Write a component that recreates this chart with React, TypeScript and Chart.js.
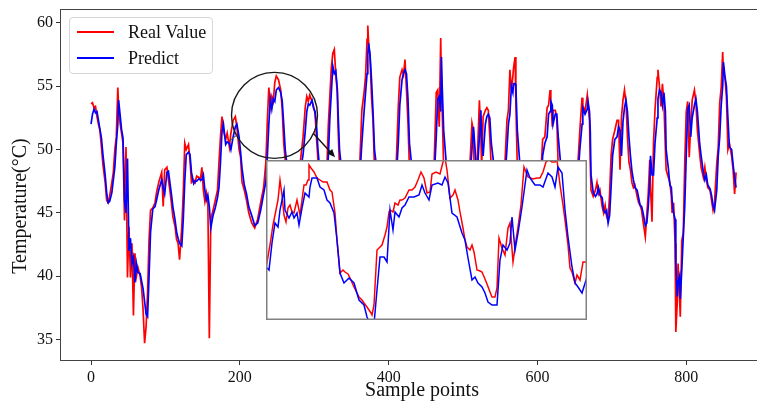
import React, { useEffect, useRef } from "react";
import { Chart, registerables } from "chart.js";

Chart.register(...registerables);

// ---- Main series (sample index, real value, predicted value) ----
const sampleIdx = [
  0, 2, 4, 6, 8, 10, 12, 14, 16, 19,
  21, 23, 25, 28, 30, 32, 34, 36, 37, 39,
  41, 43, 45, 47, 49, 51, 53, 55, 57, 59,
  61, 63, 66, 68, 70, 72, 74, 76, 78, 80,
  83, 86, 88, 91, 95, 97, 99, 102, 104, 106,
  108, 110, 113, 115, 117, 119, 122, 124, 126, 128,
  131, 133, 135, 138, 140, 142, 145, 147, 149, 151,
  153, 155, 157, 159, 161, 164, 167, 170, 172, 174,
  176, 178, 181, 183, 186, 188, 191, 194, 196, 199,
  201, 203, 206, 209, 212, 216, 220, 224, 228, 232,
  235, 237, 239, 241, 243, 245, 247, 249, 252, 255,
  257, 259, 261, 265, 270, 276, 282, 285, 288, 290,
  292, 294, 297, 299, 301, 303, 305, 308, 312, 317,
  319, 321, 323, 325, 327, 329, 331, 332, 334, 340,
  346, 352, 361, 364, 367, 369, 371, 372, 373, 375,
  377, 379, 381, 388, 396, 410, 413, 415, 418, 420,
  422, 424, 426, 428, 434, 442, 461, 464, 466, 468,
  470, 471, 472, 474, 480, 488, 509, 512, 514, 515,
  518, 520, 522, 524, 525, 527, 530, 532, 534, 536,
  538, 545, 553, 556, 559, 561, 563, 565, 567, 568,
  570, 571, 573, 580, 590, 605, 607, 610, 613, 615,
  617, 618, 620, 621, 624, 626, 628, 634, 642, 654,
  657, 660, 661, 664, 667, 668, 670, 671, 672, 675,
  678, 680, 682, 684, 687, 689, 691, 693, 695, 697,
  699, 701, 704, 707, 709, 711, 713, 715, 717, 719,
  721, 723, 725, 727, 729, 731, 734, 736, 738, 740,
  742, 745, 747, 749, 751, 752, 754, 756, 758, 761,
  762, 764, 766, 768, 770, 772, 773, 776, 778, 780,
  781, 783, 785, 786, 788, 789, 791, 792, 794, 796,
  798, 800, 802, 804, 806, 808, 811, 813, 815, 818,
  820, 823, 825, 827, 829, 832, 834, 836, 838, 841,
  843, 845, 847, 849, 850, 852, 854, 856, 858, 861,
  863, 865, 867,
];

const realValues = [
  53.6, 53.7, 53.3, 53.4, 52.6, 52.0, 51.5, 50.2, 48.8, 47.4,
  46.0, 45.8, 46.3, 47.4, 48.2, 50.0, 51.0, 54.9, 53.5, 52.1,
  51.3, 50.5, 44.4, 50.2, 39.9, 43.9, 39.9, 42.6, 36.9, 41.8,
  40.0, 40.7, 40.0, 39.1, 37.3, 34.7, 36.0, 38.7, 42.9, 45.2,
  45.4, 45.8, 46.6, 47.4, 48.2, 45.5, 48.4, 48.6, 47.6, 46.8,
  45.8, 44.7, 43.9, 42.9, 42.6, 41.3, 43.9, 46.6, 50.5, 50.0,
  50.4, 49.2, 47.4, 47.6, 47.4, 47.9, 47.8, 47.6, 48.6, 46.8,
  45.9, 46.6, 46.0, 35.1, 44.5, 45.2, 46.0, 46.8, 49.0, 51.0,
  52.6, 51.5, 50.8, 51.3, 50.2, 51.3, 52.3, 52.6, 51.8, 50.0,
  49.4, 47.4, 46.8, 46.0, 45.0, 44.2, 43.8, 44.5, 45.8, 47.0,
  49.0, 52.3, 54.9, 53.4, 54.2, 53.8, 55.3, 55.8, 55.5, 54.7,
  53.1, 50.5, 49.2, 47.0, 46.0, 46.5, 49.4, 51.0, 53.4, 54.2,
  53.8, 54.3, 53.8, 53.4, 52.9, 51.0, 49.2, 47.0, 45.5, 48.5,
  52.0, 54.2, 56.5, 57.6, 57.9, 55.9, 54.5, 51.8, 48.5, 45.5,
  44.5, 46.5, 48.5, 53.1, 54.5, 55.8, 58.7, 59.8, 58.5, 57.3,
  54.2, 52.3, 48.5, 45.5, 46.0, 48.5, 53.4, 55.7, 56.3, 55.9,
  57.1, 54.7, 52.1, 48.5, 46.0, 45.5, 48.5, 54.5, 54.7, 51.8,
  58.8, 55.0, 53.1, 48.5, 46.0, 46.5, 48.5, 52.1, 51.5, 48.5,
  47.5, 50.5, 53.9, 51.0, 48.5, 52.6, 53.1, 53.3, 53.1, 51.0,
  48.5, 46.5, 46.0, 48.5, 52.3, 53.1, 56.3, 54.7, 55.8, 56.5,
  57.3, 53.7, 48.5, 45.0, 45.0, 48.5, 50.8, 51.0, 53.3, 53.5,
  54.7, 53.9, 51.8, 53.1, 53.1, 52.5, 48.5, 46.0, 45.0, 48.5,
  51.5, 54.1, 53.5, 53.0, 54.3, 53.5, 52.3, 49.0, 46.8, 46.3,
  46.8, 47.4, 46.5, 46.8, 45.5, 45.0, 45.6, 44.7, 44.4, 46.5,
  49.5, 50.8, 51.5, 52.3, 52.3, 48.4, 52.6, 53.9, 54.7, 53.7,
  51.0, 49.0, 48.4, 47.4, 47.0, 47.2, 46.3, 45.8, 45.6, 45.2,
  44.3, 43.1, 44.8, 46.6, 49.2, 47.0, 44.3, 50.5, 53.1, 55.7,
  56.3, 55.0, 53.4, 55.2, 53.7, 50.0, 48.4, 47.8, 47.4, 46.3,
  45.0, 45.8, 42.6, 35.6, 38.0, 41.0, 38.4, 36.8, 42.8, 43.4,
  48.9, 53.0, 53.8, 49.4, 51.8, 53.9, 54.7, 53.7, 51.5, 49.7,
  48.6, 47.8, 48.6, 47.6, 47.0, 46.8, 46.0, 45.2, 45.8, 48.9,
  50.2, 53.7, 54.9, 57.7, 56.0, 55.7, 54.2, 50.0, 50.5, 49.5,
  48.4, 46.5, 48.2,
];

const predValues = [
  52.0, 52.8, 53.2, 52.9, 53.0, 52.3, 51.6, 50.9, 49.6, 48.0,
  46.6, 45.8, 45.9, 46.6, 47.6, 48.6, 50.5, 52.0, 53.9, 52.8,
  51.6, 50.9, 46.0, 45.0, 49.3, 42.0, 43.0, 41.0, 41.5, 39.5,
  41.0, 40.3, 40.2, 39.6, 39.0, 38.0, 37.0, 36.8, 40.0, 43.5,
  45.3, 45.5, 46.0, 46.8, 47.6, 47.0, 46.5, 48.2, 48.3, 47.4,
  46.5, 45.5, 44.4, 43.5, 43.0, 42.6, 42.4, 44.5, 47.5, 49.6,
  49.8, 49.6, 48.2, 47.3, 47.5, 47.5, 47.7, 47.6, 47.6, 48.0,
  46.8, 46.0, 46.4, 45.5, 43.8, 44.8, 45.4, 46.2, 47.0, 49.0,
  51.4, 52.0, 50.4, 50.6, 50.5, 50.0, 51.0, 51.8, 52.0, 51.0,
  49.8, 48.5, 47.2, 46.5, 45.5, 44.8, 44.0, 44.2, 45.2, 46.5,
  47.5, 49.5, 52.0, 54.0, 53.2, 54.0, 53.8, 54.7, 54.9, 54.5,
  53.8, 52.0, 50.0, 48.0, 46.5, 46.0, 48.5, 49.6, 51.5, 53.0,
  53.6, 53.5, 53.9, 53.3, 53.0, 52.0, 50.0, 48.0, 46.0, 47.5,
  49.5, 52.5, 54.5, 56.6, 56.0, 56.2, 54.8, 53.0, 50.0, 46.5,
  45.0, 46.0, 47.5, 50.5, 53.0, 54.5, 56.0, 57.5, 58.4, 57.5,
  55.5, 53.0, 50.0, 46.5, 45.5, 47.5, 50.5, 53.5, 55.5, 56.0,
  56.3, 56.0, 54.0, 50.5, 47.0, 45.5, 47.5, 51.0, 54.0, 54.2,
  53.0, 57.3, 55.0, 51.5, 47.0, 46.0, 47.5, 50.0, 51.8, 51.0,
  48.5, 49.0, 51.0, 53.1, 51.0, 49.5, 52.0, 52.6, 52.8, 52.5,
  50.5, 47.0, 46.0, 47.5, 50.0, 52.0, 52.8, 55.0, 54.5, 55.2,
  55.2, 55.0, 51.5, 46.0, 45.0, 47.5, 49.5, 50.5, 51.0, 52.8,
  53.0, 53.8, 53.5, 52.0, 52.8, 52.8, 51.0, 47.0, 45.5, 47.5,
  50.0, 52.0, 53.3, 52.8, 53.2, 53.8, 53.0, 51.5, 48.0, 46.6,
  46.3, 46.5, 47.0, 46.4, 46.2, 45.2, 45.0, 45.2, 44.2, 44.8,
  47.0, 49.5, 50.8, 51.0, 51.8, 51.5, 49.5, 52.2, 53.3, 53.9,
  53.0, 51.0, 49.5, 48.3, 47.6, 47.0, 46.8, 46.2, 45.6, 45.5,
  45.0, 44.0, 44.2, 45.5, 47.5, 49.5, 48.0, 48.0, 50.5, 52.5,
  54.0, 54.7, 54.5, 53.5, 54.5, 53.0, 50.0, 48.5, 47.2, 47.0,
  46.0, 45.0, 44.5, 41.0, 38.4, 39.5, 40.0, 38.2, 40.5, 43.1,
  45.5, 49.5, 53.2, 53.5, 51.0, 52.5, 53.5, 54.0, 53.0, 50.5,
  49.5, 48.2, 47.6, 48.0, 47.2, 46.9, 46.4, 45.6, 45.2, 46.8,
  49.5, 51.0, 53.5, 55.0, 56.9, 55.8, 55.0, 52.5, 50.2, 50.0,
  48.8, 47.8, 47.0,
];

// ---- Zoomed inset series ----
const insetRealIdx = [
  175.0, 176.6, 177.8, 179.0, 179.8, 180.6, 181.4, 182.2, 183.0, 183.8,
  184.6, 185.4, 186.2, 187.4, 188.6, 189.4, 190.2, 191.0, 191.8, 192.2,
  193.0, 194.2, 195.4, 196.6, 197.8, 199.4, 200.6, 201.4, 202.6, 203.4,
  204.6, 205.8, 206.6, 207.8, 208.6, 210.2, 211.4, 212.2, 213.4, 214.2,
  215.4, 216.2, 217.0, 217.4, 218.2, 219.4, 220.6, 221.4, 222.6, 223.4,
  224.2, 224.6, 225.8, 226.6, 227.8, 228.6, 229.4, 230.6, 232.2, 233.4,
  234.6, 235.8, 237.0, 238.2, 239.4, 240.6, 241.4, 243.0, 244.6, 245.8,
  246.6, 247.4, 248.6, 249.8, 250.6, 251.8, 252.6, 253.8, 254.6, 255.4,
  256.6, 257.4, 258.2, 259.4, 260.6, 261.4, 262.6, 263.4, 264.6, 265.4,
  266.6, 267.4, 268.2, 269.4, 270.6, 271.8, 272.6, 273.8, 275.0, 275.8,
  277.0, 278.2, 279.8, 281.8, 283.4, 284.6, 285.8, 287.0, 288.2, 289.4,
  290.6, 291.4, 292.6, 293.8, 294.6, 295.8, 296.6, 297.4, 298.6, 299.4,
  300.6, 301.8, 303.4,
];
const insetReal = [
  47.6, 48.75, 49.75, 50.5, 51.0, 52.0, 51.25, 50.25, 49.9, 50.6,
  50.75, 50.4, 50.35, 51.0, 50.25, 51.0, 51.75, 51.75, 52.0, 52.75,
  52.6, 52.4, 52.1, 52.0, 51.9, 51.9, 51.5, 51.4, 50.35, 49.0,
  47.35, 47.5, 47.4, 47.3, 47.1, 46.65, 46.35, 46.15, 46.0, 45.85,
  45.65, 45.5, 45.35, 45.25, 45.75, 48.5, 48.65, 48.75, 49.25, 49.65,
  50.4, 50.5, 50.4, 50.85, 50.75, 51.0, 51.0, 51.1, 51.5, 51.5,
  51.65, 52.0, 52.4, 52.1, 51.35, 51.4, 52.3, 52.4, 52.3, 52.9,
  53.1, 52.5, 51.1, 51.25, 51.5, 51.0, 50.4, 49.6, 49.0, 48.65,
  48.5, 48.75, 48.4, 47.5, 47.45, 47.4, 47.05, 46.8, 46.4, 46.15,
  46.15, 46.6, 49.1, 48.6, 48.25, 49.6, 49.85, 47.9, 49.0, 49.65,
  50.75, 52.65, 52.15, 52.05, 52.1, 52.1, 52.4, 52.9, 53.0, 52.9,
  52.9, 53.0, 51.75, 50.75, 50.0, 48.75, 47.6, 47.4, 46.85, 47.25,
  47.0, 47.9, 47.9,
];
const insetPredIdx = [
  175.0, 176.2, 177.4, 178.6, 179.8, 180.6, 182.2, 182.6, 184.2, 185.4,
  186.2, 187.4, 188.2, 189.4, 190.6, 192.2, 192.6, 193.4, 195.4, 196.6,
  198.2, 199.4, 200.6, 202.2, 203.4, 204.6, 206.2, 208.2, 210.2, 212.2,
  214.2, 215.4, 216.6, 218.2, 219.4, 220.6, 222.2, 223.4, 224.6, 225.8,
  226.6, 228.2, 229.4, 230.6, 232.2, 234.2, 236.2, 237.4, 238.6, 240.2,
  241.4, 243.8, 245.4, 246.6, 247.8, 249.4, 251.4, 253.4, 254.6, 255.8,
  257.4, 258.6, 259.8, 261.4, 262.6, 263.8, 265.4, 267.4, 268.6, 269.8,
  271.4, 272.6, 273.4, 274.6, 275.8, 277.4, 279.4, 280.6, 282.6, 284.6,
  285.8, 287.8, 289.4, 290.6, 291.8, 293.4, 294.6, 295.8, 297.4, 298.6,
  299.8, 301.4, 303.4,
];
const insetPred = [
  47.65, 47.5, 48.85, 49.85, 49.65, 50.5, 51.5, 50.5, 50.1, 50.4,
  50.1, 50.35, 49.75, 50.6, 51.35, 51.15, 51.65, 52.1, 52.1, 51.65,
  51.5, 51.0, 50.85, 50.35, 49.0, 47.35, 46.85, 47.1, 46.85, 46.0,
  45.75, 45.15, 44.8, 44.8, 46.5, 48.15, 48.15, 47.9, 50.5, 49.5,
  50.4, 50.15, 50.6, 50.75, 51.15, 51.15, 51.25, 51.75, 51.35, 51.0,
  51.75, 51.85, 51.75, 52.15, 51.85, 50.35, 50.15, 49.35, 49.0, 48.1,
  47.0, 47.15, 46.85, 46.65, 46.35, 45.9, 45.75, 45.75, 48.0, 48.75,
  48.5, 48.85, 50.15, 48.5, 49.35, 50.65, 52.5, 52.1, 51.75, 51.75,
  51.65, 52.35, 52.15, 51.65, 52.65, 52.35, 50.5, 49.15, 47.65, 46.85,
  46.65, 46.35, 47.15,
];

const xTicks = [0, 200, 400, 600, 800];
const yTicks = [35, 40, 45, 50, 55, 60];
const xRange = [-41.7, 931.4];
const yRange = [33.3, 61.1];
const insetXRange = [175, 303.4];
const insetYRange = [45, 53];
const circleCenter = [246.6, 52.7];
const arrowTip = [328, 49.4];
const yTitle = "Temperature(°C)";

const SERIF = "'Liberation Serif', 'Times New Roman', serif";
const RED = "#ff0000";
const BLUE = "#0000ff";

const toPoints = (xs: number[], ys: number[]) =>
  xs.map((x, i) => ({ x, y: ys[i] }));

const overlayPlugin = {
  id: "overlay",
  afterDatasetsDraw(chart: any) {
    const { ctx, chartArea: a, scales } = chart;
    const xs = scales.x;
    const ys = scales.y;
    ctx.save();
    // frame
    ctx.strokeStyle = "#444";
    ctx.lineWidth = 1;
    ctx.strokeRect(a.left + 0.5, a.top + 0.5, a.right - a.left - 1, a.bottom - a.top - 1);
    // circle
    const cx = xs.getPixelForValue(circleCenter[0]);
    const cy = ys.getPixelForValue(circleCenter[1]);
    const r = 43;
    ctx.beginPath();
    ctx.arc(cx, cy, r, 0, Math.PI * 2);
    ctx.strokeStyle = "#1a1a1a";
    ctx.lineWidth = 1.4;
    ctx.stroke();
    // short connector stub on the lower left of the circle
    const angL = Math.PI - Math.atan2(20, 38);
    const lx = cx + r * Math.cos(angL);
    const ly = cy + r * Math.sin(angL);
    ctx.beginPath();
    ctx.moveTo(lx, ly);
    ctx.lineTo(lx - 6.5, ly + 5);
    ctx.strokeStyle = "#555";
    ctx.lineWidth = 1.2;
    ctx.stroke();
    // arrow
    const tx = xs.getPixelForValue(arrowTip[0]);
    const ty = ys.getPixelForValue(arrowTip[1]);
    const ang0 = Math.atan2(18, 38.5);
    const sx = cx + r * Math.cos(ang0);
    const sy = cy + r * Math.sin(ang0);
    const ang = Math.atan2(ty - sy, tx - sx);
    const head = 8;
    ctx.beginPath();
    ctx.moveTo(sx, sy);
    ctx.lineTo(tx - head * 0.7 * Math.cos(ang), ty - head * 0.7 * Math.sin(ang));
    ctx.strokeStyle = "#111";
    ctx.lineWidth = 1.4;
    ctx.stroke();
    ctx.beginPath();
    ctx.moveTo(tx, ty);
    ctx.lineTo(tx - head * Math.cos(ang) + 3.5 * Math.sin(ang), ty - head * Math.sin(ang) - 3.5 * Math.cos(ang));
    ctx.lineTo(tx - head * Math.cos(ang) - 3.5 * Math.sin(ang), ty - head * Math.sin(ang) + 3.5 * Math.cos(ang));
    ctx.closePath();
    ctx.fillStyle = "#111";
    ctx.fill();
    // y-axis title
    ctx.translate(21, 206);
    ctx.rotate(-Math.PI / 2);
    ctx.font = `20px ${SERIF}`;
    ctx.fillStyle = "#111";
    ctx.textAlign = "center";
    ctx.textBaseline = "middle";
    ctx.fillText(yTitle, 0, 0);
    ctx.restore();
  },
};

const insetFramePlugin = {
  id: "insetFrame",
  afterDraw(chart: any) {
    const { ctx, width, height } = chart;
    ctx.save();
    ctx.strokeStyle = "#808080";
    ctx.lineWidth = 1.5;
    ctx.strokeRect(0.75, 0.75, width - 1.5, height - 1.5);
    ctx.restore();
  },
};

export default function App() {
  const mainRef = useRef<HTMLCanvasElement>(null);
  const insetRef = useRef<HTMLCanvasElement>(null);

  useEffect(() => {
    const tickFont = { family: SERIF, size: 16 };
    const titleFont = { family: SERIF, size: 20 };
    const main = new Chart(mainRef.current as HTMLCanvasElement, {
      type: "line",
      data: {
        datasets: [
          {
            label: "Real Value",
            data: toPoints(sampleIdx, realValues),
            borderColor: RED,
            backgroundColor: RED,
            borderWidth: 1.7,
            pointRadius: 0,
            tension: 0,
            order: 2,
          },
          {
            label: "Predict",
            data: toPoints(sampleIdx, predValues),
            borderColor: BLUE,
            backgroundColor: BLUE,
            borderWidth: 1.7,
            pointRadius: 0,
            tension: 0,
            order: 1,
          },
        ],
      },
      options: {
        animation: false,
        responsive: false,
        devicePixelRatio: 1,
        parsing: false as any,
        layout: { padding: { top: 9, left: 0, right: 0, bottom: 0 } },
        plugins: { legend: { display: false }, tooltip: { enabled: false } },
        scales: {
          x: {
            type: "linear",
            min: xRange[0],
            max: xRange[1],
            afterBuildTicks: (axis: any) => {
              axis.ticks = xTicks.map((value) => ({ value }));
            },
            afterFit: (axis: any) => {
              axis.height = 42;
              axis.paddingLeft = 0;
              axis.paddingRight = 0;
            },
            grid: { drawOnChartArea: false, drawTicks: true, tickLength: 4, color: "#333" },
            border: { display: false },
            ticks: {
              font: tickFont,
              color: "#111",
              padding: 3,
              maxRotation: 0,
              callback: (v: any) => String(v),
            },
            title: {
              display: true,
              text: "Sample points",
              font: titleFont,
              color: "#111",
              padding: { top: 0, bottom: 0 },
            },
          },
          y: {
            type: "linear",
            min: yRange[0],
            max: yRange[1],
            afterBuildTicks: (axis: any) => {
              axis.ticks = yTicks.map((value) => ({ value }));
            },
            afterFit: (axis: any) => {
              axis.width = 60;
              axis.paddingTop = 0;
              axis.paddingBottom = 0;
            },
            grid: { drawOnChartArea: false, drawTicks: true, tickLength: 4, color: "#333" },
            border: { display: false },
            ticks: {
              font: tickFont,
              color: "#111",
              padding: 3,
              callback: (v: any) => String(v),
            },
            title: { display: false },
          },
        },
      },
      plugins: [overlayPlugin],
    });

    const inset = new Chart(insetRef.current as HTMLCanvasElement, {
      type: "line",
      data: {
        datasets: [
          {
            label: "Real Value",
            data: toPoints(insetRealIdx, insetReal),
            borderColor: RED,
            borderWidth: 1.5,
            pointRadius: 0,
            tension: 0,
            order: 2,
          },
          {
            label: "Predict",
            data: toPoints(insetPredIdx, insetPred),
            borderColor: BLUE,
            borderWidth: 1.5,
            pointRadius: 0,
            tension: 0,
            order: 1,
          },
        ],
      },
      options: {
        animation: false,
        responsive: false,
        devicePixelRatio: 1,
        parsing: false as any,
        layout: { padding: 0 },
        plugins: { legend: { display: false }, tooltip: { enabled: false } },
        scales: {
          x: { type: "linear", min: insetXRange[0], max: insetXRange[1], display: false },
          y: { type: "linear", min: insetYRange[0], max: insetYRange[1], display: false },
        },
      },
      plugins: [insetFramePlugin],
    });

    return () => {
      main.destroy();
      inset.destroy();
    };
  }, []);

  const legendText: React.CSSProperties = {
    position: "absolute",
    left: 58,
    fontFamily: SERIF,
    fontSize: 18,
    lineHeight: "20px",
    color: "#111",
    whiteSpace: "nowrap",
  };

  return (
    <div
      style={{
        position: "absolute",
        left: 0,
        top: 0,
        width: 757,
        height: 403,
        overflow: "hidden",
        background: "#fff",
      }}
    >
      <canvas
        ref={mainRef}
        width={784}
        height={403}
        style={{ position: "absolute", left: 0, top: 0, width: 784, height: 403 }}
      />
      <div
        style={{
          position: "absolute",
          left: 69,
          top: 17,
          width: 144,
          height: 57,
          boxSizing: "border-box",
          border: "1px solid #d6d6d6",
          borderRadius: 4,
          background: "rgba(255,255,255,0.85)",
        }}
      >
        <div style={{ position: "absolute", left: 7, top: 13, width: 37, height: 2, background: RED }} />
        <div style={{ ...legendText, top: 4 }}>Real Value</div>
        <div style={{ position: "absolute", left: 7, top: 39, width: 37, height: 2, background: BLUE }} />
        <div style={{ ...legendText, top: 30 }}>Predict</div>
      </div>
      <canvas
        ref={insetRef}
        width={321}
        height={160}
        style={{ position: "absolute", left: 266, top: 160, width: 321, height: 160, background: "#fff" }}
      />
    </div>
  );
}
